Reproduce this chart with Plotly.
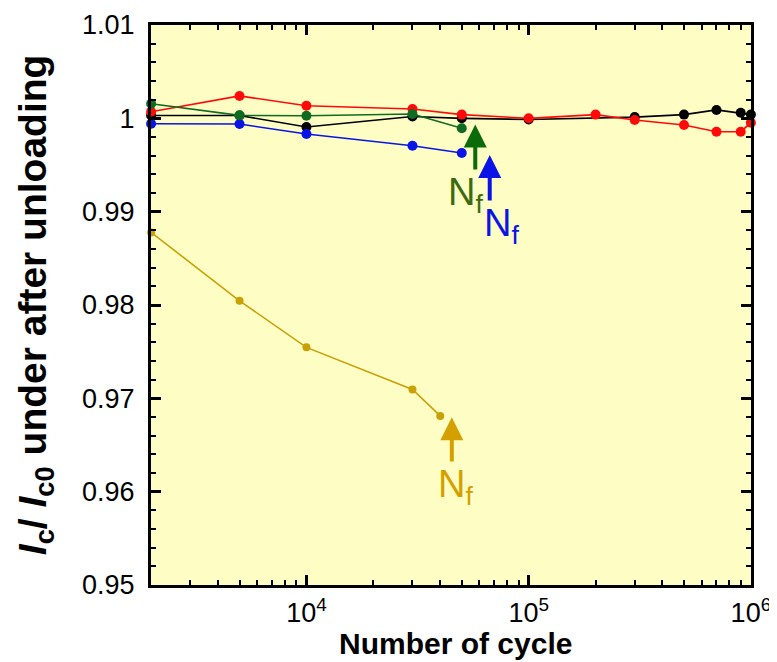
import plotly.graph_objects as go
import numpy as np

# ---------------- data ----------------
x_black = [2000, 5000, 10000, 30000, 50000, 100000, 300000, 500000, 700000, 900000, 1000000]
y_black = [1.0003, 1.0003, 0.99907, 1.0002, 1.0000, 0.99988, 1.00013, 1.0004, 1.0009, 1.0006, 1.0004]

x_red = [2000, 5000, 10000, 30000, 50000, 100000, 200000, 300000, 500000, 700000, 900000, 1000000]
y_red = [1.0007, 1.0024, 1.00135, 1.0010, 1.0004, 1.0000, 1.0004, 0.99982, 0.99928, 0.99857, 0.99857, 0.99953]

x_green = [2000, 5000, 10000, 30000, 50000]
y_green = [1.00157, 1.00032, 1.00028, 1.00046, 0.99893]

x_blue = [2000, 5000, 10000, 30000, 50000]
y_blue = [0.99942, 0.99939, 0.99832, 0.99707, 0.99628]

x_gold = [2000, 5000, 10000, 30000, 40000]
y_gold = [0.98778, 0.98045, 0.97546, 0.97095, 0.96812]

# failure-cycle arrows (Nf): cycle, arrow tip value, arrow tail value
nf_cycles = {"green": 57500, "blue": 66800, "gold": 45100}
nf_tip = {"green": 0.99935, "blue": 0.99607, "gold": 0.96798}
nf_tail = {"green": 0.99435, "blue": 0.99103, "gold": 0.96306}

y_tick_vals = [0.95, 0.96, 0.97, 0.98, 0.99, 1.0, 1.01]
y_tick_text = ["0.95", "0.96", "0.97", "0.98", "0.99", "1", "1.01"]
x_tick_vals = [1e4, 1e5, 1e6]
x_tick_text = ["10<sup>4</sup>", "10<sup>5</sup>", "10<sup>6</sup>"]
x_minor_vals = [m * 10**e for e in (3, 4, 5) for m in range(2, 10)]
x_range = [1998, 1001000]
y_range = [0.95, 1.01]

# ---------------- style ----------------
C_BLACK = "#000000"
C_RED = "#FF0A0A"
C_GREEN = "#0F6B22"
C_BLUE = "#0A14E6"
C_GOLD = "#C9A005"
C_GOLD_ARROW = "#D4A000"
C_GREEN_ARROW = "#0B6B0B"
C_GREEN_TEXT = "#3C6A12"
BG = "#FEFEC4"
FONT = "Liberation Sans, Arial, sans-serif"

fig = go.Figure()

def add_series(x, y, color, size=10):
    fig.add_trace(go.Scatter(x=x, y=y, mode="lines+markers",
                             line=dict(color=color, width=1.6),
                             marker=dict(color=color, size=size),
                             cliponaxis=False, showlegend=False))

add_series(x_gold, y_gold, C_GOLD, size=8)
add_series(x_black, y_black, C_BLACK)
add_series(x_blue, y_blue, C_BLUE)
add_series(x_red, y_red, C_RED)
add_series(x_green, y_green, C_GREEN)

arrow_colors = {"green": C_GREEN_ARROW, "blue": C_BLUE, "gold": C_GOLD_ARROW}
text_colors = {"green": C_GREEN_TEXT, "blue": C_BLUE, "gold": C_GOLD_ARROW}
text_dx = {"green": -10, "blue": 12, "gold": 4}

for k in ("green", "blue", "gold"):
    lx = np.log10(nf_cycles[k])
    fig.add_annotation(x=lx, y=nf_tip[k], ax=lx, ay=nf_tail[k],
                       xref="x", yref="y", axref="x", ayref="y",
                       text="", showarrow=True, arrowhead=2, arrowsize=1.15,
                       arrowwidth=4, arrowcolor=arrow_colors[k], standoff=0)
    fig.add_annotation(x=lx, y=nf_tail[k], xref="x", yref="y",
                       text="N<sub>f</sub>", showarrow=False,
                       xanchor="center", yanchor="top", xshift=text_dx[k],
                       yshift=2,
                       font=dict(family=FONT, size=38, color=text_colors[k]))

axis_common = dict(showline=True, linewidth=3, linecolor="black",
                   mirror="allticks", ticks="inside", ticklen=10, tickwidth=2.5,
                   tickcolor="black", showgrid=False, zeroline=False,
                   automargin=False,
                   tickfont=dict(family=FONT, size=27, color="black"))

fig.update_xaxes(type="log", range=[np.log10(v) for v in x_range],
                 tickmode="array", tickvals=x_tick_vals, ticktext=x_tick_text,
                 ticklabelstandoff=2,
                 minor=dict(tickmode="array", tickvals=x_minor_vals, ticks="inside",
                            ticklen=5, tickwidth=2, tickcolor="black", showgrid=False),
                 **axis_common)
fig.update_yaxes(range=y_range,
                 tickmode="array", tickvals=y_tick_vals, ticktext=y_tick_text,
                 ticklabelstandoff=8,
                 minor=dict(dtick=0.002, tick0=0.95, ticks="inside",
                            ticklen=5, tickwidth=2, tickcolor="black", showgrid=False),
                 **axis_common)

fig.add_annotation(text="<b>Number of cycle</b>", xref="paper", yref="paper",
                   x=0.508, y=-0.105, xanchor="center", yanchor="middle", showarrow=False,
                   font=dict(family=FONT, size=30, color="black"))
fig.add_annotation(text="<b><i>I</i><sub>c</sub>/ <i>I</i><sub>c0</sub> under after unloading</b>",
                   xref="paper", yref="paper", x=-0.193, y=0.5, textangle=-90,
                   xanchor="center", yanchor="middle", showarrow=False,
                   font=dict(family=FONT, size=39, color="black"))

# page body has an 8px margin: size and margins compensate for it
fig.update_layout(width=769, height=654,
                  margin=dict(l=143, r=26, t=17, b=77, autoexpand=False),
                  plot_bgcolor=BG, paper_bgcolor="white",
                  font=dict(family=FONT))

fig.write_html("out.html")
